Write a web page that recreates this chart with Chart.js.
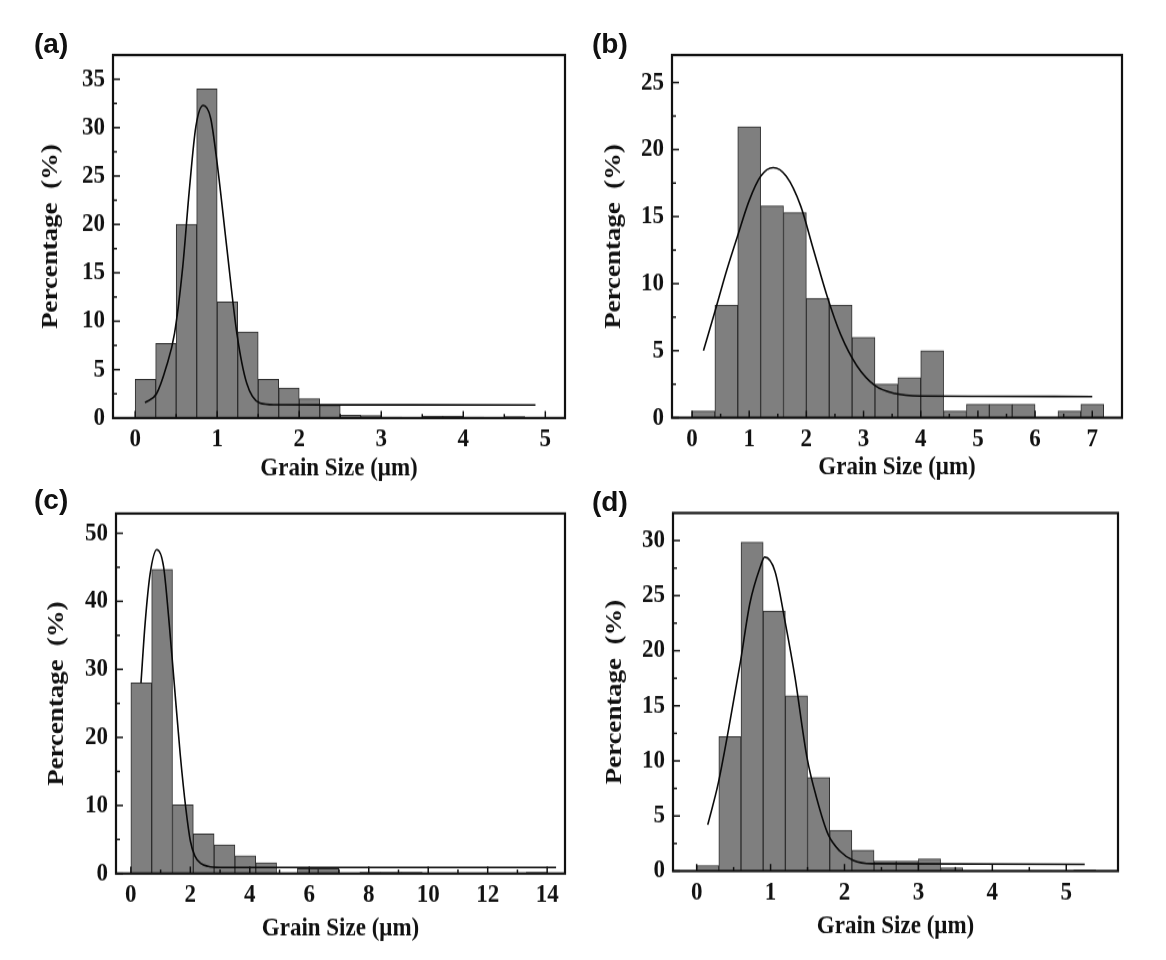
<!DOCTYPE html>
<html>
<head>
<meta charset="utf-8">
<script src="https://cdn.jsdelivr.net/npm/chart.js@4.4.0/dist/chart.umd.min.js"></script>
<style>
  html, body { margin: 0; padding: 0; background: #fff; }
  body { width: 1166px; height: 960px; position: relative; overflow: hidden; }
  canvas { position: absolute; transform-origin: 0 0; }
  .tag { position: absolute; font: bold 28px "Liberation Sans", Arial, sans-serif; color: #111; line-height: 1; }
</style>
</head>
<body>
<canvas id="chartA" width="583" style="left:0;top:0"></canvas>
<canvas id="chartB" width="583" style="left:583px;top:0"></canvas>
<canvas id="chartC" width="583" style="left:0;top:480px"></canvas>
<canvas id="chartD" width="583" style="left:583px;top:480px"></canvas>
<div class="tag" style="left:34px;top:30px">(a)</div>
<div class="tag" style="left:592px;top:30px">(b)</div>
<div class="tag" style="left:34px;top:486px">(c)</div>
<div class="tag" style="left:592px;top:488px">(d)</div>
<script>
// ---- grain-size distributions: bin centres (µm) and share of grains (%) ----
const binsA = [0.125, 0.375, 0.625, 0.875, 1.125, 1.375, 1.625, 1.875, 2.125, 2.375, 2.625, 2.875, 3.125, 3.375, 3.625, 3.875, 4.125, 4.375, 4.625];
const pctA  = [4.0, 7.7, 20.0, 34.0, 12.0, 8.9, 4.0, 3.1, 2.0, 1.3, 0.3, 0.25, 0.1, 0, 0.2, 0.2, 0.1, 0, 0.15];
const fitXA = [0.12, 0.26, 0.38, 0.48, 0.58, 0.66, 0.74, 0.83, 0.92, 1.0, 1.12, 1.24, 1.36, 1.52, 1.7, 2.5, 4.88];
const fitYA = [1.6, 2.5, 5.3, 8.75, 15.6, 23.5, 30.1, 32.3, 31.0, 26.3, 17.4, 8.75, 3.6, 1.55, 1.38, 1.36, 1.35];

const binsB = [0.2, 0.6, 1.0, 1.4, 1.8, 2.2, 2.6, 3.0, 3.4, 3.8, 4.2, 4.6, 5.0, 5.4, 5.8, 6.2, 6.6, 7.0];
const pctB  = [0.5, 8.4, 21.7, 15.8, 15.3, 8.9, 8.4, 6.0, 2.5, 3.0, 5.0, 0.5, 1.0, 1.0, 1.0, 0, 0.5, 1.0];
const fitXB = [0.2, 0.4, 0.6, 0.8, 1.0, 1.2, 1.42, 1.65, 1.9, 2.12, 2.36, 2.6, 2.88, 3.2, 3.55, 4.0, 5.0, 7.0];
const fitYB = [5.0, 7.9, 10.9, 13.6, 16.2, 18.0, 18.65, 18.0, 15.8, 12.6, 9.1, 6.2, 3.9, 2.4, 1.8, 1.62, 1.6, 1.58];

const binsC = [0.35, 1.05, 1.75, 2.45, 3.15, 3.85, 4.55, 5.25, 5.95, 6.65, 7.35, 8.05, 8.75, 9.45, 10.15, 10.85, 11.55, 12.25, 12.95, 13.65];
const pctC  = [28.0, 44.7, 10.1, 5.8, 4.2, 2.6, 1.6, 0, 0.7, 0.7, 0, 0.2, 0.2, 0.2, 0, 0, 0, 0, 0, 0.2];
const fitXC = [0.34, 0.48, 0.65, 0.875, 1.1, 1.27, 1.44, 1.66, 1.85, 2.0, 2.15, 2.35, 2.6, 3.0, 14.3];
const fitYC = [28.0, 36.8, 44.1, 47.6, 45.1, 37.7, 28.9, 17.5, 9.5, 4.8, 2.6, 1.5, 1.05, 0.9, 0.9];

const binsD = [0.15, 0.45, 0.75, 1.05, 1.35, 1.65, 1.95, 2.25, 2.55, 2.85, 3.15, 3.45, 3.75, 4.05, 4.35, 4.65, 4.95, 5.25];
const pctD  = [0.5, 12.2, 29.85, 23.6, 15.9, 8.5, 3.7, 1.9, 0.9, 0.9, 1.1, 0.3, 0, 0.05, 0.05, 0.05, 0, 0.1];
const fitXD = [0.15, 0.29, 0.43, 0.59, 0.72, 0.86, 0.92, 1.06, 1.2, 1.33, 1.49, 1.62, 1.78, 1.94, 2.12, 2.37, 5.25];
const fitYD = [4.2, 7.9, 12.8, 18.9, 24.3, 27.6, 28.5, 27.2, 22.5, 17.6, 10.4, 6.7, 3.3, 1.8, 0.97, 0.67, 0.6];

// ---- axis ticks and ranges ----
const xTicksA = [0, 1, 2, 3, 4, 5];
const yTicksA = [0, 5, 10, 15, 20, 25, 30, 35];
const xTicksB = [0, 1, 2, 3, 4, 5, 6, 7];
const yTicksB = [0, 5, 10, 15, 20, 25];
const xTicksC = [0, 2, 4, 6, 8, 10, 12, 14];
const yTicksC = [0, 10, 20, 30, 40, 50];
const xTicksD = [0, 1, 2, 3, 4, 5];
const yTicksD = [0, 5, 10, 15, 20, 25, 30];

const xRangeA = [-0.27, 5.24], yMaxA = 37.5;
const xRangeB = [-0.35, 7.52], yMaxB = 27.05;
const xRangeC = [-0.5, 14.6],  yMaxC = 52.9;
const xRangeD = [-0.32, 5.7],  yMaxD = 32.5;

const X_TITLE = 'Grain Size (μm)';
const Y_TITLE = 'Percentage  (%)';

const SERIF = '"Liberation Serif", "Times New Roman", serif';
const INK = '#111';
const TALL = 1.12;          // figure is drawn slightly taller than wide
const TICK_SIZE = 23, XT_SIZE = 23, YT_SIZE = 24, LH = 1.2;

// Closed frame plus short inward major/minor tick marks
function makeFrame(sy) {
  return {
    id: 'frame',
    afterDatasetsDraw(chart) {
      const { ctx, chartArea: a, scales: { x, y } } = chart;
      ctx.save();
      ctx.strokeStyle = INK;
      ctx.lineWidth = 1.5;
      const mark = (scale, vals, len) => {
        vals.forEach(v => {
          const p = scale.getPixelForValue(v);
          ctx.beginPath();
          if (scale.isHorizontal()) { ctx.moveTo(p, a.bottom); ctx.lineTo(p, a.bottom - len / sy); }
          else { ctx.moveTo(a.left, p); ctx.lineTo(a.left + len, p); }
          ctx.stroke();
        });
      };
      const mids = vals => vals.slice(1).map((v, i) => (v + vals[i]) / 2);
      const xv = x.ticks.map(t => t.value), yv = y.ticks.map(t => t.value);
      mark(x, xv, 7); mark(x, mids(xv), 4);
      mark(y, yv, 7); mark(y, mids(yv), 4);
      ctx.lineWidth = 2.2;
      ctx.strokeRect(a.left, a.top, a.right - a.left, a.bottom - a.top);
      ctx.restore();
    }
  };
}

// lay: page-pixel layout of one panel (vertical values measured from the canvas top)
function drawPanel(id, bins, pct, fitX, fitY, xTicks, yTicks, xRange, yMax, lay) {
  const cv = document.getElementById(id);
  cv.height = Math.round(lay.pageH / TALL);
  const sy = lay.pageH / cv.height;
  cv.style.transform = `scaleY(${sy})`;

  const padTop = lay.top / sy;
  const xH = (lay.pageH - lay.bottom) / sy;
  const xTitlePad = (lay.pageH - lay.xTitleY) / sy - XT_SIZE * LH / 2;
  const xTickPad = lay.xTickGap / sy - TICK_SIZE * LH / 2;
  const yTitlePad = lay.yTitleX - YT_SIZE * LH / 2;

  new Chart(cv, {
    type: 'bar',
    data: {
      datasets: [
        {
          type: 'line',
          data: fitX.map((v, i) => ({ x: v, y: fitY[i] })),
          borderColor: '#0a0a0a',
          borderWidth: 1.6,
          pointRadius: 0,
          cubicInterpolationMode: 'monotone',
          fill: false,
          order: 0
        },
        {
          type: 'bar',
          data: bins.map((v, i) => ({ x: v, y: pct[i] })),
          backgroundColor: '#7f7f7f',
          borderColor: '#2e2e2e',
          borderWidth: 1,
          barPercentage: 1,
          categoryPercentage: 1,
          order: 1
        }
      ]
    },
    options: {
      responsive: false,
      animation: false,
      devicePixelRatio: 1,
      events: [],
      layout: { padding: { top: padTop, right: lay.right, left: 0, bottom: 0 } },
      plugins: { legend: { display: false }, tooltip: { enabled: false } },
      scales: {
        x: {
          type: 'linear',
          min: xRange[0],
          max: xRange[1],
          offset: false,
          afterBuildTicks: s => { s.ticks = xTicks.map(v => ({ value: v })); },
          afterFit: s => { s.height = xH; },
          grid: { display: false, drawTicks: false },
          border: { display: false },
          ticks: {
            autoSkip: false, maxRotation: 0, padding: xTickPad, color: INK,
            font: { family: SERIF, size: TICK_SIZE, weight: 'bold', lineHeight: LH },
            callback: v => String(v)
          },
          title: {
            display: true, text: X_TITLE, color: INK,
            font: { family: SERIF, size: XT_SIZE, weight: 'bold', lineHeight: LH },
            padding: { top: 0, bottom: xTitlePad }
          }
        },
        y: {
          type: 'linear',
          min: 0,
          max: yMax,
          afterBuildTicks: s => { s.ticks = yTicks.map(v => ({ value: v })); },
          afterFit: s => { s.width = lay.yW; },
          grid: { display: false, drawTicks: false },
          border: { display: false },
          ticks: {
            padding: 8, color: INK,
            font: { family: SERIF, size: TICK_SIZE, weight: 'bold', lineHeight: LH },
            callback: v => String(v)
          },
          title: {
            display: true, text: Y_TITLE, color: INK,
            font: { family: SERIF, size: YT_SIZE, weight: 'bold', lineHeight: LH },
            padding: { top: yTitlePad, bottom: 0 }
          }
        }
      }
    },
    plugins: [makeFrame(sy)]
  });
}

drawPanel('chartA', binsA, pctA, fitXA, fitYA, xTicksA, yTicksA, xRangeA, yMaxA,
  { pageH: 500, top: 55, bottom: 418, yW: 113, right: 18, xTickGap: 22, xTitleY: 469, yTitleX: 51 });
drawPanel('chartB', binsB, pctB, fitXB, fitYB, xTicksB, yTicksB, xRangeB, yMaxB,
  { pageH: 500, top: 55, bottom: 417.7, yW: 89, right: 44, xTickGap: 22, xTitleY: 468, yTitleX: 31 });
drawPanel('chartC', binsC, pctC, fitXC, fitYC, xTicksC, yTicksC, xRangeC, yMaxC,
  { pageH: 480, top: 33.5, bottom: 393.5, yW: 116, right: 18, xTickGap: 22, xTitleY: 449, yTitleX: 57 });
drawPanel('chartD', binsD, pctD, fitXD, fitYD, xTicksD, yTicksD, xRangeD, yMaxD,
  { pageH: 480, top: 33, bottom: 391, yW: 90, right: 48, xTickGap: 22, xTitleY: 447, yTitleX: 32 });
</script>
</body>
</html>
